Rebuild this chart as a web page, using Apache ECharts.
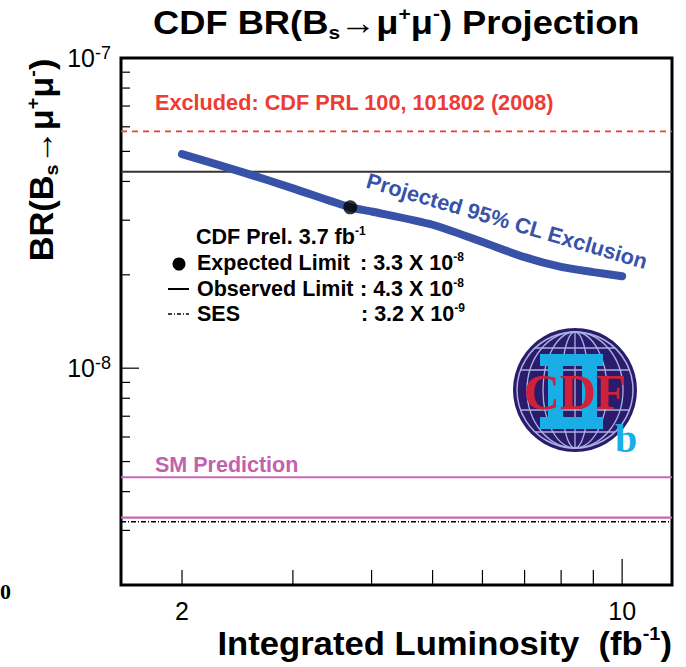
<!DOCTYPE html>
<html><head><meta charset="utf-8">
<script src="https://cdn.jsdelivr.net/npm/echarts@6/dist/echarts.min.js"></script>
<style>html,body{margin:0;padding:0;background:#fff}#c{width:686px;height:667px}</style>
</head><body><div id="c"></div>
<script>
// ---- data ----
const lumi = [2, 2.5, 3, 3.7, 4, 5, 6, 7, 8, 9, 10];
const projLimit = [4.9e-8, 4.28e-8, 3.8e-8, 3.3e-8, 3.2e-8, 2.9e-8, 2.55e-8, 2.28e-8, 2.12e-8, 2.04e-8, 1.98e-8];
const expectedPoint = [3.7, 3.3e-8];
const excludedPRL = 5.8e-8;
const observedLimit = 4.3e-8;
const smBand = [4.45e-9, 3.3e-9];
const sesLevel = 3.2e-9;
const xRange = [1.6, 12];
const yRange = [2e-9, 1e-7];
const xTickVals = [2, 3, 4, 5, 6, 7, 8, 9, 10];
const xLabelVals = [2, 10];
const yTickVals = [3e-9, 4e-9, 5e-9, 6e-9, 7e-9, 8e-9, 9e-9, 1e-8, 2e-8, 3e-8, 4e-8, 5e-8, 6e-8, 7e-8, 8e-8, 9e-8];

// horizontal reference levels (values) and their styles (kept separate)
const hLevels = [excludedPRL, observedLimit, smBand[0], smBand[1], sesLevel];
const hStyles = [
  {stroke: '#ee3b33', lineWidth: 1.6, lineDash: [6, 5]},
  {stroke: '#333333', lineWidth: 2},
  {stroke: '#c469b2', lineWidth: 2.2},
  {stroke: '#c469b2', lineWidth: 2.2},
  {stroke: '#000000', lineWidth: 1.6, lineDash: [5, 2, 1, 2]}
];

const SANS = "'Liberation Sans', Arial, Helvetica, sans-serif";
const SERIF = "'Liberation Serif', 'DejaVu Serif', serif";

function richSet(size, color, weight) {
  return {
    n: {fontSize: size, fontWeight: weight, fontFamily: SANS, color: color, lineHeight: size * 1.15},
    sup: {fontSize: Math.round(size * 0.58), fontWeight: weight, fontFamily: SANS, color: color, lineHeight: Math.round(size * 0.6), verticalAlign: 'top'},
    sub: {fontSize: Math.round(size * 0.58), fontWeight: weight, fontFamily: SANS, color: color, lineHeight: Math.round(size * 0.62), verticalAlign: 'bottom'}
  };
}

const chart = echarts.init(document.getElementById('c'), null, {renderer: 'svg'});

const isDecade = v => Math.abs(Math.log10(v) - Math.round(Math.log10(v))) < 1e-6;

const legendRich = richSet(21.5, '#000', 'bold');
function ltext(x, y, txt) {
  return {type: 'text', x: x, y: y, style: {text: txt, rich: legendRich, textAlign: 'left', textVerticalAlign: 'middle'}, z: 50};
}

// logo parts
const LX = 575, LY = 390, LR = 62;
const logo = [];
logo.push({type: 'circle', shape: {cx: LX, cy: LY, r: LR}, style: {fill: '#2a1b6c'}, z: 40});
logo.push({type: 'circle', shape: {cx: LX, cy: LY, r: LR - 4}, style: {fill: 'none', stroke: '#aab3df', lineWidth: 1.5}, z: 41});
[14, 32, 48].forEach(rx => logo.push({type: 'ellipse', shape: {cx: LX, cy: LY, rx: rx, ry: LR - 4}, style: {fill: 'none', stroke: '#aab3df', lineWidth: 1.3}, z: 41}));
logo.push({type: 'line', shape: {x1: LX, y1: LY - LR + 4, x2: LX, y2: LY + LR - 4}, style: {stroke: '#aab3df', lineWidth: 1.3}, z: 41});
[-42, -20, 20, 42].forEach(dy => {
  const h = Math.sqrt((LR - 4) * (LR - 4) - dy * dy);
  logo.push({type: 'line', shape: {x1: LX - h, y1: LY + dy, x2: LX + h, y2: LY + dy}, style: {stroke: '#aab3df', lineWidth: 1.3}, z: 41});
});
const cyan = '#19aee6';
logo.push({type: 'rect', shape: {x: 540, y: 354, width: 63, height: 12}, style: {fill: cyan}, z: 42});
logo.push({type: 'rect', shape: {x: 540, y: 417, width: 63, height: 12}, style: {fill: cyan}, z: 42});
logo.push({type: 'rect', shape: {x: 548, y: 354, width: 15, height: 75}, style: {fill: cyan}, z: 42});
logo.push({type: 'rect', shape: {x: 582, y: 354, width: 15, height: 75}, style: {fill: cyan}, z: 42});
logo.push({type: 'text', x: LX, y: 392, style: {text: 'CDF', font: 'bold 50px ' + SERIF, fill: '#d0213a', textAlign: 'center', textVerticalAlign: 'middle'}, z: 43});
logo.push({type: 'text', x: 626, y: 438, style: {text: 'b', font: 'bold 40px ' + SERIF, fill: cyan, textAlign: 'center', textVerticalAlign: 'middle'}, z: 43});

const option = {
  backgroundColor: '#fff',
  animation: false,
  grid: {left: 121, right: 14, top: 58, bottom: 82, show: true, borderColor: '#000', borderWidth: 3, backgroundColor: '#fff'},
  xAxis: {
    type: 'log', logBase: 10, min: xRange[0], max: xRange[1],
    axisLine: {show: false}, axisTick: {show: false}, axisLabel: {show: false}, splitLine: {show: false}
  },
  yAxis: {
    type: 'log', logBase: 10, min: yRange[0], max: yRange[1],
    axisLine: {show: false}, axisTick: {show: false}, splitLine: {show: false}, minorTick: {show: false},
    axisLabel: {
      show: true, margin: 10, showMinLabel: false, showMaxLabel: true,
      formatter: v => isDecade(v) ? '{b|10}{s|' + Math.round(Math.log10(v)) + '}' : '',
      rich: {
        b: {fontSize: 25, fontFamily: SANS, color: '#000', lineHeight: 28},
        s: {fontSize: 18, fontFamily: SANS, color: '#000', lineHeight: 17, verticalAlign: 'top'}
      }
    }
  },
  series: [
    {
      type: 'custom', name: 'reference levels', silent: true, z: 2,
      data: hLevels.map(v => [xRange[0], v]),
      renderItem: (params, api) => {
        const v = api.value(1);
        const p1 = api.coord([xRange[0], v]);
        const p2 = api.coord([xRange[1], v]);
        return {type: 'line', shape: {x1: p1[0], y1: p1[1], x2: p2[0], y2: p2[1]}, style: Object.assign({fill: null}, hStyles[params.dataIndex])};
      }
    },
    {
      type: 'line', name: 'Projected 95% CL Exclusion', smooth: 0.25, showSymbol: false, symbol: 'none',
      data: lumi.map((x, i) => [x, projLimit[i]]),
      lineStyle: {color: '#3852a8', width: 8, cap: 'round'}, z: 5
    },
    {
      type: 'scatter', name: 'Expected Limit', data: [expectedPoint], symbol: 'circle', symbolSize: 14,
      itemStyle: {color: '#000'}, z: 10
    },
    {
      type: 'custom', name: 'xticks', silent: true, z: 3,
      data: xTickVals.map(v => [v, yRange[0]]),
      renderItem: (params, api) => {
        const p = api.coord([api.value(0), api.value(1)]);
        const len = isDecade(api.value(0)) ? 26 : 15;
        return {type: 'line', shape: {x1: p[0], y1: p[1], x2: p[0], y2: p[1] - len}, style: {stroke: '#000', lineWidth: 1.2}};
      }
    },
    {
      type: 'custom', name: 'xlabels', silent: true, z: 3,
      data: xLabelVals.map(v => [v, yRange[0]]),
      renderItem: (params, api) => {
        const p = api.coord([api.value(0), api.value(1)]);
        return {type: 'text', x: p[0], y: p[1] + 26, style: {text: String(api.value(0)), font: '25px ' + SANS, fill: '#000', textAlign: 'center', textVerticalAlign: 'middle'}};
      }
    },
    {
      type: 'custom', name: 'yticks', silent: true, z: 3,
      data: yTickVals.map(v => [xRange[0], v]),
      renderItem: (params, api) => {
        const p = api.coord([api.value(0), api.value(1)]);
        const len = isDecade(api.value(1)) ? 18 : 9;
        return {type: 'line', shape: {x1: p[0], y1: p[1], x2: p[0] + len, y2: p[1]}, style: {stroke: '#000', lineWidth: 1.2}};
      }
    }
  ],
  graphic: [
    {type: 'text', x: 153, y: 23, scaleX: 1.1,
      style: {text: '{n|CDF BR(B}{sub|s}{n|→μ}{sup|+}{n|μ}{sup|-}{n|) Projection}', rich: richSet(33, '#000', 'bold'), textAlign: 'left', textVerticalAlign: 'middle'}},
    {type: 'text', x: 42, y: 160, rotation: Math.PI / 2, scaleX: 1.04,
      style: {text: '{n|BR(B}{sub|s}{n|→μ}{sup|+}{n|μ}{sup|-}{n|)}', rich: richSet(33, '#000', 'bold'), textAlign: 'center', textVerticalAlign: 'middle'}},
    {type: 'text', x: 672, y: 643, scaleX: 1.05,
      style: {text: '{n|Integrated Luminosity  (fb}{sup|-1}{n|)}', rich: richSet(33, '#000', 'bold'), textAlign: 'right', textVerticalAlign: 'middle'}},
    {type: 'text', x: 155, y: 102, style: {text: 'Excluded: CDF PRL 100, 101802 (2008)', font: 'bold 21.7px ' + SANS, fill: '#ee3b33', textAlign: 'left', textVerticalAlign: 'middle'}, z: 50},
    {type: 'text', x: 155, y: 465, style: {text: 'SM Prediction', font: 'bold 21.5px ' + SANS, fill: '#c262ae', textAlign: 'left', textVerticalAlign: 'middle'}, z: 50},
    {type: 'text', x: 507, y: 221, rotation: -0.285, style: {text: 'Projected 95% CL Exclusion', font: 'bold 21.7px ' + SANS, fill: '#3852a8', textAlign: 'center', textVerticalAlign: 'middle'}, z: 50},
    ltext(196, 237, '{n|CDF Prel. 3.7 fb}{sup|-1}'),
    {type: 'circle', shape: {cx: 179, cy: 264, r: 6.5}, style: {fill: '#000'}, z: 50},
    ltext(197, 263, '{n|Expected Limit}'),
    ltext(360, 263, '{n|: 3.3 X 10}{sup|-8}'),
    {type: 'line', shape: {x1: 168, y1: 289, x2: 189, y2: 289}, style: {stroke: '#000', lineWidth: 2}, z: 50},
    ltext(197, 289, '{n|Observed Limit}'),
    ltext(360, 289, '{n|: 4.3 X 10}{sup|-8}'),
    {type: 'line', shape: {x1: 168, y1: 314, x2: 189, y2: 314}, style: {stroke: '#000', lineWidth: 1.5, lineDash: [4, 2, 1, 2]}, z: 50},
    ltext(197, 314, '{n|SES}'),
    ltext(361, 314, '{n|: 3.2 X 10}{sup|-9}'),
    {type: 'text', x: 0, y: 591, style: {text: '0', font: 'bold 22px ' + SERIF, fill: '#000', textAlign: 'left', textVerticalAlign: 'middle'}}
  ].concat(logo)
};
chart.setOption(option);
</script></body></html>
